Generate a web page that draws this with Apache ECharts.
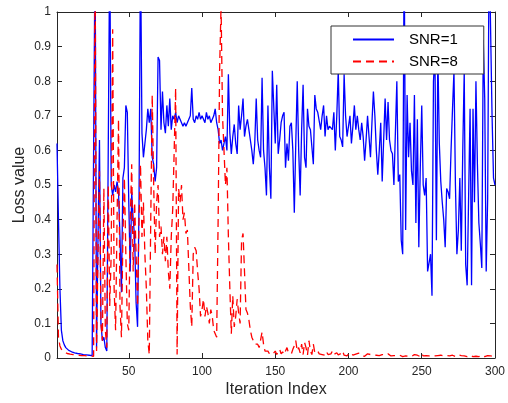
<!DOCTYPE html>
<html><head><meta charset="utf-8">
<script src="https://cdn.jsdelivr.net/npm/echarts@6/dist/echarts.min.js"></script>
<style>html,body{margin:0;padding:0;background:#fff;}#c{width:508px;height:403px;}</style>
</head><body><div id="c"></div>
<script>
// Loss value per iteration (iterations 1..300)
const snr1 = [
0.62,0.4,0.2,0.08,0.05,0.038,0.03,0.025,0.022,0.02,
0.018,0.016,0.015,0.014,0.013,0.012,0.012,0.011,0.01,0.01,
0.009,0.009,0.008,0.008,0.007,0.007,1.2,0.03,0.35,0.63,
0.1,0.05,0.06,0.03,0.02,0.015,1.2,0.5,0.47,0.5,
0.48,0.51,0.48,0.35,0.19,0.52,0.55,0.73,0.71,0.45,
0.25,0.48,0.4,0.35,0.16,0.09,0.45,1.2,0.65,0.58,
0.62,0.66,0.72,0.68,0.72,0.58,0.56,0.51,0.55,0.87,
0.86,0.66,0.77,0.68,0.65,0.73,0.67,0.75,0.66,0.7,
0.69,0.71,0.68,0.7,0.69,0.68,0.67,0.68,0.67,0.68,
0.69,0.7,0.78,0.69,0.68,0.7,0.69,0.71,0.69,0.7,
0.7,0.68,0.71,0.69,0.7,0.68,0.69,0.7,0.72,0.68,
0.66,0.62,0.63,0.6,0.62,0.64,0.6,0.82,0.65,0.59,
0.64,0.675,0.62,0.59,0.73,0.66,0.7,0.75,0.64,0.67,
0.69,0.66,0.63,0.6,0.56,0.62,0.75,0.63,0.6,0.58,
0.81,0.6,0.55,0.47,0.73,0.55,0.46,0.83,0.83,0.62,
0.79,0.59,0.63,0.68,0.7,0.71,0.55,0.62,0.57,0.67,
0.68,0.6,0.42,0.62,0.8,0.6,0.47,0.66,0.79,0.58,
0.55,0.72,0.67,0.66,0.66,0.56,0.76,0.72,0.71,0.71,
0.66,0.7,0.73,0.64,0.7,0.66,0.67,0.67,0.66,0.71,
0.6,0.7,0.83,0.64,0.63,0.61,0.82,0.7,0.64,0.64,
0.7,0.62,0.67,0.73,0.66,0.7,0.66,0.63,0.68,0.64,
0.57,0.63,0.7,0.64,0.58,0.68,0.77,0.7,0.6,0.53,
0.6,0.68,0.51,0.63,0.75,0.63,0.74,0.63,0.6,0.59,
0.5,0.65,0.8,0.51,0.53,0.34,0.3,1.2,0.37,0.76,
0.58,0.68,0.54,0.5,0.76,0.39,0.69,0.32,0.55,0.73,
0.5,0.47,0.52,0.25,0.25,0.3,0.18,0.8,0.88,0.34,
0.88,0.62,0.51,0.45,0.4,0.32,0.49,0.48,0.46,0.6,
0.72,0.83,0.5,0.3,0.37,0.52,0.31,0.6,0.83,0.27,
0.21,0.21,0.72,0.21,0.72,0.45,0.8,0.56,0.39,0.33,
0.26,0.92,0.75,0.25,0.46,1.2,1.2,0.7,0.52,0.5
];
const snr8 = [
0.27,0.06,0.035,0.025,0.02,0.017,0.015,0.013,0.012,0.011,
0.01,0.01,0.009,0.009,0.008,0.008,0.008,0.007,0.007,0.007,
0.006,0.006,0.006,0.006,0.005,0.005,1.2,0.02,0.3,0.54,
0.1,0.05,0.49,0.08,0.03,0.5,0.15,0.3,0.95,0.2,
0.08,0.4,0.69,0.15,0.06,0.35,0.52,0.3,0.1,0.08,
0.4,0.56,0.25,0.45,0.3,0.15,0.4,0.56,0.35,0.45,
0.3,0.2,0.05,0.01,0.4,0.76,0.5,0.3,0.45,0.5,
0.35,0.38,0.3,0.35,0.28,0.35,0.25,0.2,0.35,0.43,
0.6,0.78,0.01,0.49,0.45,0.5,0.4,0.42,0.36,0.37,
0.26,0.15,0.09,0.3,0.32,0.31,0.25,0.2,0.12,0.14,
0.17,0.12,0.15,0.13,0.1,0.14,0.12,0.08,0.07,0.06,
0.4,0.83,1.02,0.7,0.6,0.5,0.55,0.35,0.2,0.07,
0.18,0.09,0.12,0.17,0.13,0.1,0.34,0.36,0.25,0.14,
0.13,0.11,0.08,0.06,0.05,0.04,0.035,0.04,0.03,0.035,
0.075,0.04,0.02,0.015,0.02,0.012,0.015,0.01,0.015,0.02,
0.01,0.015,0.025,0.012,0.018,0.01,0.02,0.03,0.015,0.02,
0.012,0.025,0.035,0.05,0.02,0.03,0.015,0.04,0.01,0.045,
0.03,0.008,0.05,0.02,0.01,0.04,0.015,0.01,0.02,0.012,
0.015,0.01,0.012,0.008,0.018,0.01,0.006,0.012,0.02,0.01,
0.007,0.015,0.009,0.006,0.013,0.02,0.008,0.01,0.006,0.012,
0.01,0.015,0.008,0.005,0.011,0.007,0.014,0.009,0.006,0.01,
0.005,0.008,0.012,0.007,0.01,0.006,0.009,0.005,0.008,0.012,
0.007,0.005,0.01,0.006,0.008,0.005,0.012,0.015,0.006,0.01,
0.007,0.005,0.006,0.01,0.008,0.005,0.004,0.007,0.006,0.009,
0.005,0.007,0.004,0.006,0.01,0.005,0.008,0.006,0.004,0.012,
0.006,0.005,0.007,0.004,0.006,0.008,0.005,0.004,0.006,0.01,
0.007,0.012,0.008,0.005,0.006,0.004,0.007,0.01,0.006,0.005,
0.008,0.005,0.004,0.006,0.009,0.005,0.007,0.004,0.006,0.005,
0.004,0.006,0.008,0.005,0.004,0.007,0.005,0.006,0.004,0.005,
0.008,0.006,0.004,0.005,0.007,0.004,0.006,0.005,0.004,0.005
];
const seriesNames = ['SNR=1', 'SNR=8'];
const xTicks = [50, 100, 150, 200, 250, 300];
const xRange = [1, 300];
const yRange = [0, 1];
const yStep = 0.1;

const toPairs = arr => arr.map((v, i) => [i + 1, v]);
const axisColor = '#262626';
const font = '"Liberation Sans", Arial, Helvetica, sans-serif';

const chart = echarts.init(document.getElementById('c'));
const boxAxisX = (pos, showLabel) => ({
  type: 'value', min: xRange[0], max: xRange[1], position: pos,
  axisLine: { show: true, onZero: false, lineStyle: { color: axisColor, width: 1 } },
  axisTick: { show: true, inside: true, length: 5, customValues: xTicks, lineStyle: { color: axisColor } },
  axisLabel: { show: showLabel, customValues: xTicks, fontSize: 12, color: axisColor, margin: 8, fontFamily: font },
  splitLine: { show: false }
});
const boxAxisY = (pos, showLabel) => ({
  type: 'value', min: yRange[0], max: yRange[1], interval: yStep, position: pos,
  axisLine: { show: true, onZero: false, lineStyle: { color: axisColor, width: 1 } },
  axisTick: { show: true, inside: true, length: 5, lineStyle: { color: axisColor } },
  axisLabel: { show: showLabel, fontSize: 12, color: axisColor, margin: 6, fontFamily: font },
  splitLine: { show: false }
});
const xb = boxAxisX('bottom', true);
xb.name = 'Iteration Index'; xb.nameLocation = 'middle'; xb.nameGap = 24; xb.nameMoveOverlap = false;
xb.nameTextStyle = { fontSize: 16, color: axisColor, fontFamily: font };
const yl = boxAxisY('left', true);
yl.name = 'Loss value'; yl.nameLocation = 'middle'; yl.nameGap = 29; yl.nameMoveOverlap = false;
yl.nameTextStyle = { fontSize: 16, color: axisColor, fontFamily: font };

chart.setOption({
  animation: false,
  grid: { left: 57, right: 11, top: 12, bottom: 43 },
  xAxis: [xb, boxAxisX('top', false)],
  yAxis: [yl, boxAxisY('right', false)],
  legend: {
    orient: 'vertical', left: 331, top: 26,
    padding: [6, 26, 5, 21], itemGap: 7, itemWidth: 41, itemHeight: 14,
    backgroundColor: '#ffffff', borderColor: '#333333', borderWidth: 1,
    itemStyle: { opacity: 0 },
    textStyle: { fontSize: 15, color: '#000', fontFamily: font, padding: [0, 0, 0, 10] },
    data: seriesNames
  },
  series: [
    { type: 'line', name: seriesNames[0], data: toPairs(snr1), symbol: 'none', clip: true, z: 2,
      lineStyle: { color: '#0000ff', width: 1.3 }, itemStyle: { color: '#0000ff' } },
    { type: 'line', name: seriesNames[1], data: toPairs(snr8), symbol: 'none', clip: true, z: 3,
      lineStyle: { color: '#ff0000', width: 1.3, type: [8, 5] }, itemStyle: { color: '#ff0000' } }
  ]
});
</script>
</body></html>
